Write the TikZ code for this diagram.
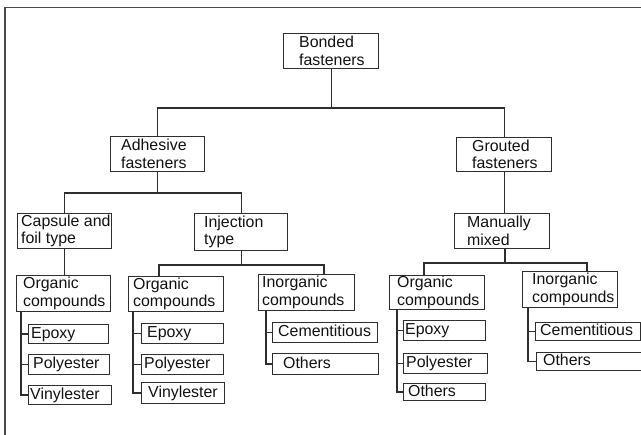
\documentclass[tikz,border=0pt]{standalone}
\usepackage{fontspec}
\setmainfont{Liberation Sans}
\definecolor{lc}{HTML}{2E2E2E}
\definecolor{tc}{HTML}{111111}
\definecolor{fc}{HTML}{4A4A4A}
\newcommand{\dfont}{\fontsize{15.9pt}{17.5pt}\selectfont}
\begin{document}
\begin{tikzpicture}[x=1pt,y=-1pt,
  bx/.style 2 args={draw=lc, line width=1.1pt, anchor=north west, inner sep=0pt, minimum width=#1pt, minimum height=#2pt},
  tx/.style={anchor=west, align=left, inner sep=0pt, font=\dfont, text=tc},
  tx1/.style={tx, text height=11.6pt, text depth=3.3pt},
  ln/.style={draw=lc, line width=1.1pt},
]
\useasboundingbox (0,0) rectangle (641,435);
% frame
\draw[draw=fc, line width=1.2pt] (5,435) -- (5,7.5) -- (641,7.5);

% level 0/1
\node[bx={95}{35}] (bonded) at (283,33) {};
\node[tx] (bonded-t) at ([xshift=16pt]bonded.west) {Bonded\\fasteners};
\node[bx={94}{35}] (adhesive) at (110,136) {};
\node[tx] (adhesive-t) at ([xshift=11pt]adhesive.west) {Adhesive\\fasteners};
\node[bx={95}{34}] (grouted) at (456,137) {};
\node[tx] (grouted-t) at ([xshift=16pt]grouted.west) {Grouted\\fasteners};

% level 2
\node[bx={94}{35}] (capsule) at (17,213) {};
\node[tx] (capsule-t) at ([xshift=4pt]capsule.west) {Capsule and\\foil type};
\node[bx={93}{37}] (injection) at (194,213) {};
\node[tx] (injection-t) at ([xshift=10pt]injection.west) {Injection\\type};
\node[bx={95}{35}] (manually) at (454,213) {};
\node[tx] (manually-t) at ([xshift=13pt]manually.west) {Manually\\mixed};

% level 3
\node[bx={94}{36}] (organic1) at (16,275) {};
\node[tx] (organic1-t) at ([xshift=7pt]organic1.west) {Organic\\compounds};
\node[bx={95}{35}] (organic2) at (128,276) {};
\node[tx] (organic2-t) at ([xshift=5pt]organic2.west) {Organic\\compounds};
\node[bx={96}{36}] (inorg1) at (258,274) {};
\node[tx] (inorg1-t) at ([xshift=4pt]inorg1.west) {Inorganic\\compounds};
\node[bx={95}{34}] (organic3) at (389,275) {};
\node[tx] (organic3-t) at ([xshift=8pt]organic3.west) {Organic\\compounds};
\node[bx={95}{36}] (inorg2) at (522,271) {};
\node[tx] (inorg2-t) at ([xshift=10pt]inorg2.west) {Inorganic\\compounds};

% leaves
\node[bx={80}{19}] (epoxy1) at (28,324) {};
\node[tx1] (epoxy1-t) at ([xshift=3pt]epoxy1.west) {Epoxy};
\node[bx={81}{20}] (poly1) at (28,354) {};
\node[tx1] (poly1-t) at ([xshift=5pt]poly1.west) {Polyester};
\node[bx={83}{19}] (vinyl1) at (28,385) {};
\node[tx1] (vinyl1-t) at ([xshift=2pt]vinyl1.west) {Vinylester};

\node[bx={82}{20}] (epoxy2) at (141,323) {};
\node[tx1] (epoxy2-t) at ([xshift=6pt]epoxy2.west) {Epoxy};
\node[bx={82}{20}] (poly2) at (141,354) {};
\node[tx1] (poly2-t) at ([xshift=3pt]poly2.west) {Polyester};
\node[bx={83}{21}] (vinyl2) at (141,382) {};
\node[tx1] (vinyl2-t) at ([xshift=7pt]vinyl2.west) {Vinylester};

\node[bx={105}{20}] (cem1) at (272,322) {};
\node[tx1] (cem1-t) at ([xshift=6pt]cem1.west) {Cementitious};
\node[bx={106}{21}] (oth1) at (272,353) {};
\node[tx1] (oth1-t) at ([xshift=11pt]oth1.west) {Others};

\node[bx={82}{20}] (epoxy3) at (403,320) {};
\node[tx1] (epoxy3-t) at ([xshift=2pt]epoxy3.west) {Epoxy};
\node[bx={84}{20}] (poly3) at (403,353) {};
\node[tx1] (poly3-t) at ([xshift=3pt]poly3.west) {Polyester};
\node[bx={82}{17}] (oth3) at (403,383) {};
\node[tx1] (oth3-t) at ([xshift=5pt]oth3.west) {Others};

\node[bx={105}{18}] (cem2) at (535,322) {};
\node[tx1] (cem2-t) at ([xshift=5pt]cem2.west) {Cementitious};
\node[bx={104.5}{18}] (oth4) at (536,352) {};
\node[tx1] (oth4-t) at ([xshift=7pt]oth4.west) {Others};

% connectors: level 0 -> 1
\draw[ln] (bonded.south) -- (bonded.south |- 0,108);
\draw[ln] (adhesive.north) |- (grouted.north |- 0,108) -- (grouted.north);
% adhesive -> capsule, injection
\draw[ln] (adhesive.south) -- (adhesive.south |- 0,193);
\draw[ln] (capsule.north) |- (injection.north |- 0,193) -- (injection.north);
% grouted -> manually
\draw[ln] (grouted.south) -- (grouted.south |- manually.north);
% capsule -> organic1
\draw[ln] (capsule.south) -- (capsule.south |- organic1.north);
% injection -> organic2, inorg1
\draw[ln] (injection.south) -- (injection.south |- 0,265);
\draw[ln] (organic2.north -| 159,0) -- (159,265) -- (324,265) -- (inorg1.north -| 324,0);
% manually -> organic3, inorg2
\draw[ln] (manually.south -| 505,0) -- (505,263);
\draw[ln] (organic3.north -| 424,0) -- (424,263) -- (587,263) -- (inorg2.north -| 587,0);

% leaf spines
\draw[ln] (organic1.south -| 21,0) |- (vinyl1.west);
\draw[ln] (epoxy1.west -| 21,0) -- (epoxy1.west);
\draw[ln] (poly1.west -| 21,0) -- (poly1.west);

\draw[ln] (organic2.south -| 133,0) |- (vinyl2.west);
\draw[ln] (epoxy2.west -| 133,0) -- (epoxy2.west);
\draw[ln] (poly2.west -| 133,0) -- (poly2.west);

\draw[ln] (inorg1.south -| 266,0) |- (oth1.west);
\draw[ln] (cem1.west -| 266,0) -- (cem1.west);

\draw[ln] (organic3.south -| 397,0) |- (oth3.west);
\draw[ln] (epoxy3.west -| 397,0) -- (epoxy3.west);
\draw[ln] (poly3.west -| 397,0) -- (poly3.west);

\draw[ln] (inorg2.south -| 528,0) |- (oth4.west);
\draw[ln] (cem2.west -| 528,0) -- (cem2.west);
\end{tikzpicture}
\end{document}
